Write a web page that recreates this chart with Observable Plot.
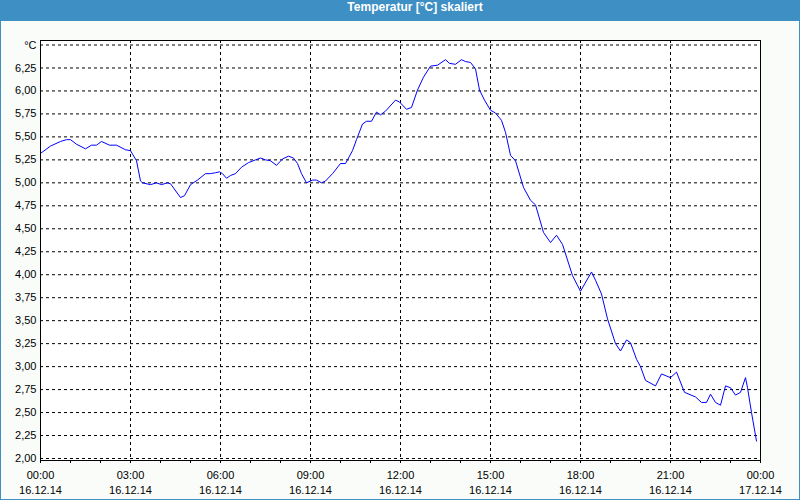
<!DOCTYPE html>
<html>
<head>
<meta charset="utf-8">
<script src="https://cdn.jsdelivr.net/npm/d3@7"></script>
<script src="https://cdn.jsdelivr.net/npm/@observablehq/plot@0.6"></script>
<style>
  html, body { margin: 0; padding: 0; background: #ffffff; }
  #win { width: 800px; height: 500px; box-sizing: border-box; background: #3d8fc4; padding: 0 1px 1px 1px; }
  #title { height: 21px; line-height: 21px; color: #ffffff; font: bold 12px "Liberation Sans", sans-serif; text-align: center; padding-left: 30px; box-sizing: border-box; }
  #chart { width: 798px; height: 478px; background: #fafcfa; }
  #chart svg { display: block; }
</style>
</head>
<body>
<div id="win">
  <div id="title">Temperatur [°C] skaliert</div>
  <div id="chart"></div>
</div>
<script>
const day = "2014-12-16";
const times = [
  "00:00","00:20","00:40","00:52","01:00","01:12","01:30","01:42","01:52","02:02",
  "02:18","02:32","02:50","03:00","03:12","03:20","03:24","03:40","03:52","04:02",
  "04:14","04:20","04:40","04:48","05:00","05:14","05:30","05:40","05:50","05:58",
  "06:04","06:12","06:20","06:30","06:42","06:56","07:10","07:20","07:30","07:40",
  "07:52","08:04","08:16","08:26","08:34","08:42","08:52","09:04","09:12","09:22",
  "09:30","09:44","10:00","10:10","10:24","10:32","10:44","10:52","11:02","11:12",
  "11:20","11:30","11:50","11:58","12:12","12:22","12:34","12:46","13:00","13:14",
  "13:30","13:38","13:50","14:02","14:10","14:20","14:30","14:38","14:48","15:00",
  "15:10","15:22","15:30","15:40","15:50","16:06","16:20","16:30","16:46","17:00",
  "17:12","17:24","17:44","18:00","18:22","18:30","18:42","18:54","19:10","19:20",
  "19:32","19:40","19:52","20:00","20:10","20:30","20:42","21:00","21:12","21:28",
  "21:50","22:02","22:12","22:20","22:30","22:40","22:50","23:00","23:10","23:20",
  "23:30","23:34","23:42","23:52"
];
const temps = [
  5.32,5.40,5.45,5.47,5.47,5.42,5.37,5.41,5.41,5.45,
  5.41,5.41,5.36,5.35,5.24,5.02,5.00,4.98,5.00,4.98,
  5.00,4.99,4.84,4.86,4.98,5.03,5.10,5.10,5.11,5.12,
  5.10,5.05,5.08,5.10,5.17,5.22,5.25,5.27,5.25,5.24,
  5.19,5.26,5.29,5.27,5.21,5.10,5.00,5.03,5.03,5.00,
  5.02,5.10,5.21,5.21,5.35,5.47,5.64,5.67,5.67,5.77,
  5.74,5.78,5.90,5.88,5.80,5.82,6.01,6.15,6.27,6.28,
  6.34,6.30,6.29,6.34,6.32,6.31,6.24,6.01,5.90,5.79,
  5.76,5.68,5.55,5.30,5.24,4.95,4.81,4.76,4.46,4.35,
  4.43,4.33,3.99,3.82,4.03,3.94,3.79,3.52,3.25,3.17,
  3.29,3.26,3.08,3.00,2.85,2.79,2.92,2.88,2.94,2.72,
  2.67,2.61,2.61,2.70,2.61,2.58,2.79,2.77,2.69,2.72,
  2.88,2.77,2.50,2.19
];
const yTicks = [2.00,2.25,2.50,2.75,3.00,3.25,3.50,3.75,4.00,4.25,4.50,4.75,5.00,5.25,5.50,5.75,6.00,6.25,6.50];
const yUnitLabel = "°C";
const xStart = "2014-12-16T00:00:00";
const xEnd = "2014-12-17T00:00:00";

const data = times.map((t, i) => ({date: new Date(`${day}T${t}:00`), value: temps[i]}));
const start = new Date(xStart), end = new Date(xEnd);
const hourTicks = d3.timeHour.range(start, new Date(+end + 1));
const labelTicks = d3.timeHour.every(3).range(start, new Date(+end + 1));
const innerTicks = labelTicks.filter(d => +d !== +start && +d !== +end);
const fmtX = d3.timeFormat("%H:%M\n%d.%m.%y");
const fmtY = d => d === 6.5 ? yUnitLabel : d.toFixed(2).replace(".", ",");

const plot = Plot.plot({
  width: 798,
  height: 478,
  marginLeft: 39,
  marginRight: 39,
  marginTop: 19,
  marginBottom: 39,
  style: {fontFamily: "'Liberation Sans', sans-serif", fontSize: "11px", color: "#000", background: "transparent", overflow: "visible"},
  x: {type: "time", domain: [start, end]},
  y: {domain: [2, 6.5], insetTop: 4.5, insetBottom: 2},
  marks: [
    Plot.frame({fill: "#ffffff", stroke: null}),
    Plot.gridY(yTicks, {stroke: "#000", strokeOpacity: 1, strokeDasharray: "3,3"}),
    Plot.gridX(innerTicks, {stroke: "#000", strokeOpacity: 1, strokeDasharray: "3,3"}),
    Plot.axisY({ticks: yTicks, tickSize: 0, tickPadding: 4, tickFormat: fmtY, label: null}),
    Plot.axisX({ticks: hourTicks, tickSize: 3, tickFormat: () => "", label: null}),
    Plot.axisX({ticks: labelTicks, tickSize: 0, tickPadding: 8, tickFormat: fmtX, lineHeight: 1.36, label: null}),
    Plot.line(data, {x: "date", y: "value", stroke: "#0000ff", strokeWidth: 1}),
    Plot.frame({stroke: "#000", strokeWidth: 1})
  ]
});
document.getElementById("chart").appendChild(plot);
</script>
</body>
</html>
